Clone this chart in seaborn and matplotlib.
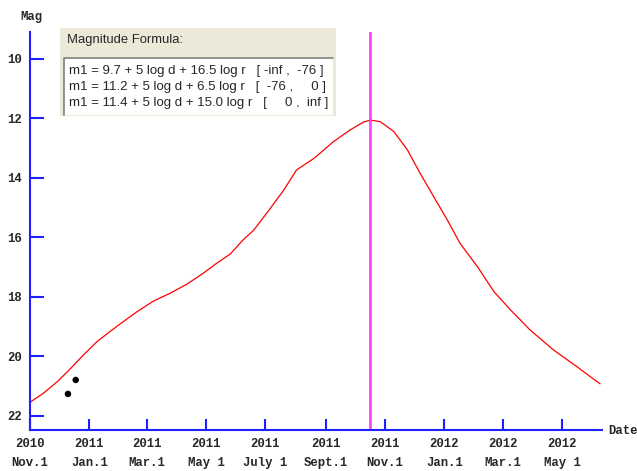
import pandas as pd
import matplotlib
matplotlib.use('Agg')
import matplotlib.pyplot as plt
from matplotlib.patches import Rectangle
from matplotlib.lines import Line2D
import seaborn as sns

# light curve, days after 2010 Nov. 1 and predicted magnitude
curve_days = [0, 14, 28, 41, 55, 69, 82, 96, 110, 127, 144, 161, 178, 192, 206, 219,
              230, 247, 261, 274, 292, 312, 329, 343, 349, 353, 360, 374, 388, 401,
              415, 429, 442, 460, 477, 494, 514, 538, 562, 586]
curve_mag = [21.54, 21.23, 20.85, 20.43, 19.95, 19.50, 19.17, 18.83, 18.50, 18.14,
             17.88, 17.58, 17.21, 16.87, 16.56, 16.09, 15.76, 15.03, 14.41, 13.74,
             13.35, 12.79, 12.40, 12.13, 12.08, 12.08, 12.12, 12.45, 13.07, 13.85,
             14.64, 15.42, 16.20, 16.99, 17.83, 18.44, 19.11, 19.78, 20.34, 20.92]

# observations
obs_dates = ['2010-12-10', '2010-12-18']
obs_mag = [21.26, 20.79]

perihelion = '2011-10-16'

tick_dates = ['2010-11-01', '2011-01-01', '2011-03-01', '2011-05-01', '2011-07-01',
              '2011-09-01', '2011-11-01', '2012-01-01', '2012-03-01', '2012-05-01']
tick_labels = ['2010\nNov.1', '2011\nJan.1', '2011\nMar.1', '2011\nMay 1', '2011\nJuly 1',
               '2011\nSept.1', '2011\nNov.1', '2012\nJan.1', '2012\nMar.1', '2012\nMay 1']

formula_lines = ['m1 = 9.7 + 5 log d + 16.5 log r   [ -inf ,  -76 ]',
                 'm1 = 11.2 + 5 log d + 6.5 log r   [  -76 ,     0 ]',
                 'm1 = 11.4 + 5 log d + 15.0 log r   [     0 ,  inf ]']

start = pd.Timestamp('2010-11-01')
curve = pd.DataFrame({'date': start + pd.to_timedelta(curve_days, unit='D'), 'mag': curve_mag})
obs = pd.DataFrame({'date': pd.to_datetime(obs_dates), 'mag': obs_mag})

sns.set_style('white')
W, H = 637, 471
fig = plt.figure(figsize=(W / 100, H / 100), dpi=100)
ax = fig.add_axes([30 / W, 41 / H, 572 / W, 398 / H])

sns.lineplot(data=curve, x='date', y='mag', color='red', lw=0.9, ax=ax)
sns.scatterplot(data=obs, x='date', y='mag', color='black', s=22, edgecolor='none', ax=ax)
ax.axvline(pd.Timestamp(perihelion), color='#ff44ff', lw=2)

ax.set_xlim(start, start + pd.Timedelta(days=588))
ax.set_ylim(22.47, 9.11)
ax.set_xlabel('')
ax.set_ylabel('')

tick_font = dict(family='Liberation Mono', weight='bold', size=8.8)
ax.set_yticks([10, 12, 14, 16, 18, 20, 22])
ax.set_yticklabels(['10', '12', '14', '16', '18', '20', '22'], fontdict=tick_font)
ax.set_xticks(pd.to_datetime(tick_dates))
ax.set_xticklabels(tick_labels, fontdict=tick_font, linespacing=1.75)
ax.tick_params(axis='y', direction='in', length=10, width=1.5, color='#2020ff', pad=6)
ax.tick_params(axis='x', direction='in', length=8, width=1.5, color='#2020ff', pad=6)
ax.tick_params(left=True, bottom=True)

for s in ['top', 'right']:
    ax.spines[s].set_visible(False)
for s in ['left', 'bottom']:
    ax.spines[s].set_color('#2020ff')
    ax.spines[s].set_linewidth(1.5)

fig.text(31 / W, 1 - 17 / H, 'Mag', ha='center', va='center', **tick_font)
fig.text(608 / W, 1 - 431 / H, 'Date', ha='left', va='center', **tick_font)

# formula panel
fig.add_artist(Rectangle((60 / W, 1 - 116 / H), 276 / W, 88 / H, transform=fig.transFigure,
                         facecolor='#ece9d8', edgecolor='none', zorder=5))
fig.add_artist(Rectangle((64 / W, 1 - 115 / H), 269 / W, 57 / H, transform=fig.transFigure,
                         facecolor='white', edgecolor='none', zorder=6))
fig.add_artist(Line2D([64 / W, 64 / W, 333 / W], [1 - 115 / H, 1 - 58 / H, 1 - 58 / H],
                      transform=fig.transFigure, color='#808080', lw=1.2, zorder=7))
fig.text(67 / W, 1 - 40 / H, 'Magnitude Formula:', family='Liberation Sans', size=9.4,
         va='center', zorder=8)
for i, line in enumerate(formula_lines):
    fig.text(69 / W, 1 - (71 + 16 * i) / H, line, family='Liberation Sans', size=9.5,
             va='center', zorder=8)

fig.savefig('out.png', dpi=100)
